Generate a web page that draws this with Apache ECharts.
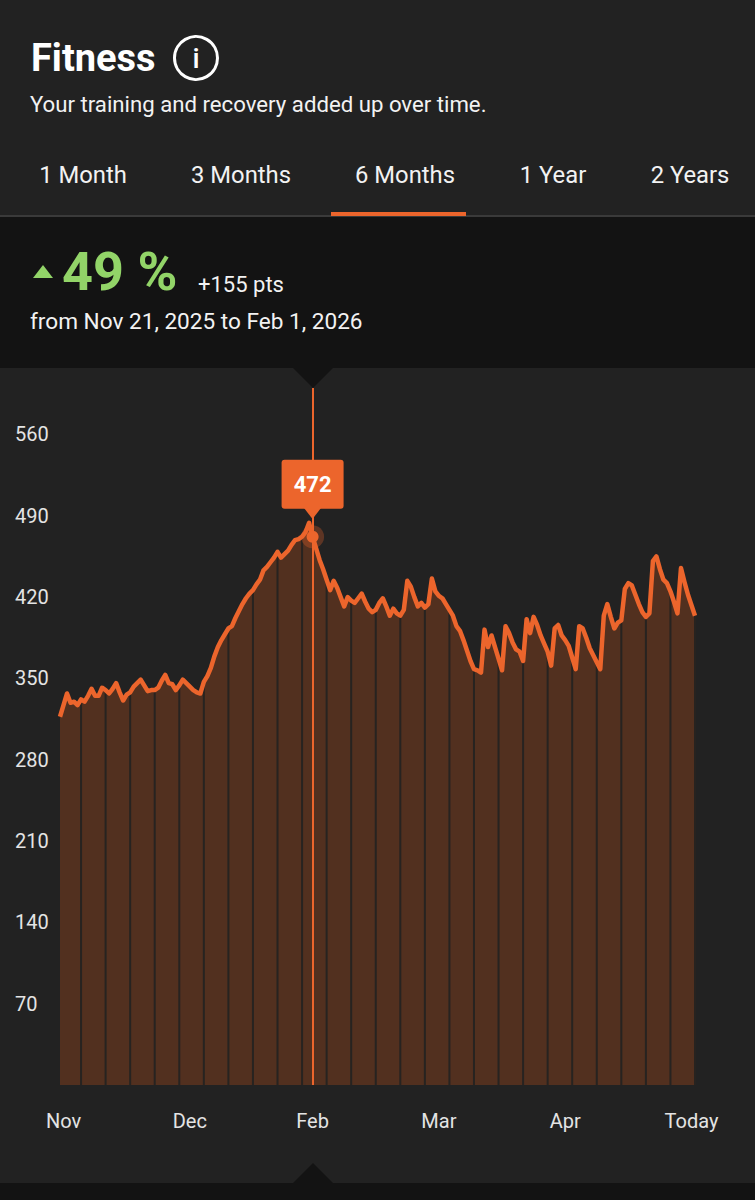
<!DOCTYPE html>
<html><head><meta charset="utf-8">
<script src="https://cdn.jsdelivr.net/npm/echarts@6/dist/echarts.min.js"></script>
<style>html,body{margin:0;padding:0;background:#222}#c{width:755px;height:1200px}</style>
</head><body><div id="c"></div>
<script>
const fitness = [
317,327,337,329,330,327,332,330,335,341,
335,335,342,340,337,341,346,338,331,336,
338,343,346,349,344,339,340,340,342,348,
353,346,345,340,344,349,346,343,340,338,
337,347,352,359,369,377,383,388,393,395,
402,408,414,419,423,426,431,435,443,446,
450,454,459,454,457,460,465,469,470,472,
476,484,472,462,452,444,435,426,434,428,
420,412,420,417,415,419,423,416,410,407,
409,415,419,412,404,410,406,404,409,434,
429,420,412,415,411,414,436,425,421,419,
414,409,404,395,391,383,374,365,358,357,
355,392,377,387,377,367,357,395,389,381,
375,373,365,401,389,403,396,387,380,373,
361,393,396,387,383,378,368,358,395,393,
385,376,370,364,358,404,414,403,393,398,
400,427,432,430,422,414,407,403,406,451,
455,444,435,432,425,416,406,445,433,422,
413,404];
const monthTicks = {1:'Nov',37:'Dec',72:'Feb',108:'Mar',144:'Apr',180:'Today'};
const days = fitness.map((_, i) => monthTicks[i] || '');
const weekEnds = fitness.map((v, i) => (i % 7 === 6 ? v : null));
const selectedDay = 72;
const selectedValue = 472;
const yMax = 600, yStep = 70;

const ORANGE = '#EC652C', PANEL = '#222222', BAND = '#131313', AREA = '#52301F';
const FONT = 'Roboto, sans-serif';
const T = (x, y, text, size, opt) => ({type:'text', z:20, x, y, style:Object.assign({text, fill:'#f2f2f2',
  font:`${(opt&&opt.weight)||400} ${size}px ${FONT}`, textVerticalAlign:'middle', textAlign:'left'}, opt&&opt.style)});

const chart = echarts.init(document.getElementById('c'), null, {renderer:'svg', width:755, height:1200});
chart.setOption({
  animation:false,
  backgroundColor:PANEL,
  grid:{left:60, right:60, top:388, bottom:115},
  xAxis:{type:'category', data:days, boundaryGap:false,
    axisLine:{show:false}, axisTick:{show:false}, splitLine:{show:false},
    axisLabel:{interval:(i)=>!!days[i], color:'#e4e4e4', fontSize:20, fontFamily:FONT, margin:26, hideOverlap:false}},
  yAxis:{type:'value', min:0, max:yMax, interval:yStep,
    axisLine:{show:false}, axisTick:{show:false}, splitLine:{show:false},
    axisLabel:{color:'#e4e4e4', fontSize:20, fontFamily:FONT, align:'left', margin:45, showMinLabel:false, showMaxLabel:false}},
  series:[
    {type:'line', data:fitness, symbol:'none', z:2, lineStyle:{width:0}, areaStyle:{color:AREA, opacity:1}},
    {type:'bar', data:weekEnds, barWidth:2, z:3, itemStyle:{color:'#272320'}},
    {type:'line', data:fitness, symbol:'none', z:5, lineStyle:{color:ORANGE, width:4.5, join:'round'},
      markLine:{silent:true, symbol:'none', label:{show:false}, lineStyle:{color:ORANGE, width:2, type:'solid', opacity:1},
        data:[{xAxis:selectedDay}]}},
    {type:'scatter', data:[[selectedDay, selectedValue]], symbolSize:23, z:6, itemStyle:{color:ORANGE, opacity:0.3}},
    {type:'scatter', data:[[selectedDay, selectedValue]], symbolSize:12, z:7, itemStyle:{color:ORANGE, opacity:1},
      label:{show:true, opacity:1, position:'top', distance:0, offset:[0,-22], formatter:'{@[1]}', color:'#fff', fontSize:22, fontWeight:700,
        fontFamily:FONT, backgroundColor:ORANGE, borderRadius:3, width:62, height:49, lineHeight:49, align:'center', verticalAlign:'bottom'}}
  ],
  graphic:[
    {type:'rect', z:-1, silent:true, shape:{x:0,y:216,width:755,height:152}, style:{fill:BAND}},
    {type:'rect', z:-1, silent:true, shape:{x:0,y:1183,width:755,height:17}, style:{fill:BAND}},
    {type:'polygon', z:-1, silent:true, shape:{points:[[293,368],[333,368],[313,388]]}, style:{fill:BAND}},
    {type:'polygon', z:-1, silent:true, shape:{points:[[293,1183],[333,1183],[313,1163]]}, style:{fill:BAND}},
    {type:'rect', z:-1, silent:true, shape:{x:0,y:215,width:755,height:2}, style:{fill:'#3A3A3A'}},
    {type:'rect', z:10, silent:true, shape:{x:331,y:212,width:135,height:4}, style:{fill:ORANGE}},
    {type:'polygon', z:10, silent:true, shape:{points:[[304,508],[321,508],[312.5,519]]}, style:{fill:ORANGE}},
    {type:'polygon', z:10, silent:true, shape:{points:[[33,278],[53,278],[43,265]]}, style:{fill:'#92D468'}},
    {type:'circle', z:10, silent:true, shape:{cx:196,cy:58,r:21.5}, style:{fill:'none',stroke:'#fff',lineWidth:3}},
    T(196,58,'i',28,{weight:500,style:{textAlign:'center',fill:'#fff'}}),
    T(31,58,'Fitness',38,{weight:700,style:{fill:'#fff'}}),
    T(30,104,'Your training and recovery added up over time.',22.2),
    T(83,175,'1 Month',23.8,{style:{textAlign:'center'}}),
    T(241,175,'3 Months',23.8,{style:{textAlign:'center'}}),
    T(405,175,'6 Months',23.8,{style:{textAlign:'center'}}),
    T(553,175,'1 Year',23.8,{style:{textAlign:'center'}}),
    T(690,175,'2 Years',23.8,{style:{textAlign:'center'}}),
    T(62,271,'49 %',54,{weight:700,style:{fill:'#92D468'}}),
    T(198,284,'+155 pts',22),
    T(30,321,'from Nov 21, 2025 to Feb 1, 2026',22.6)
  ]
});
</script></body></html>
